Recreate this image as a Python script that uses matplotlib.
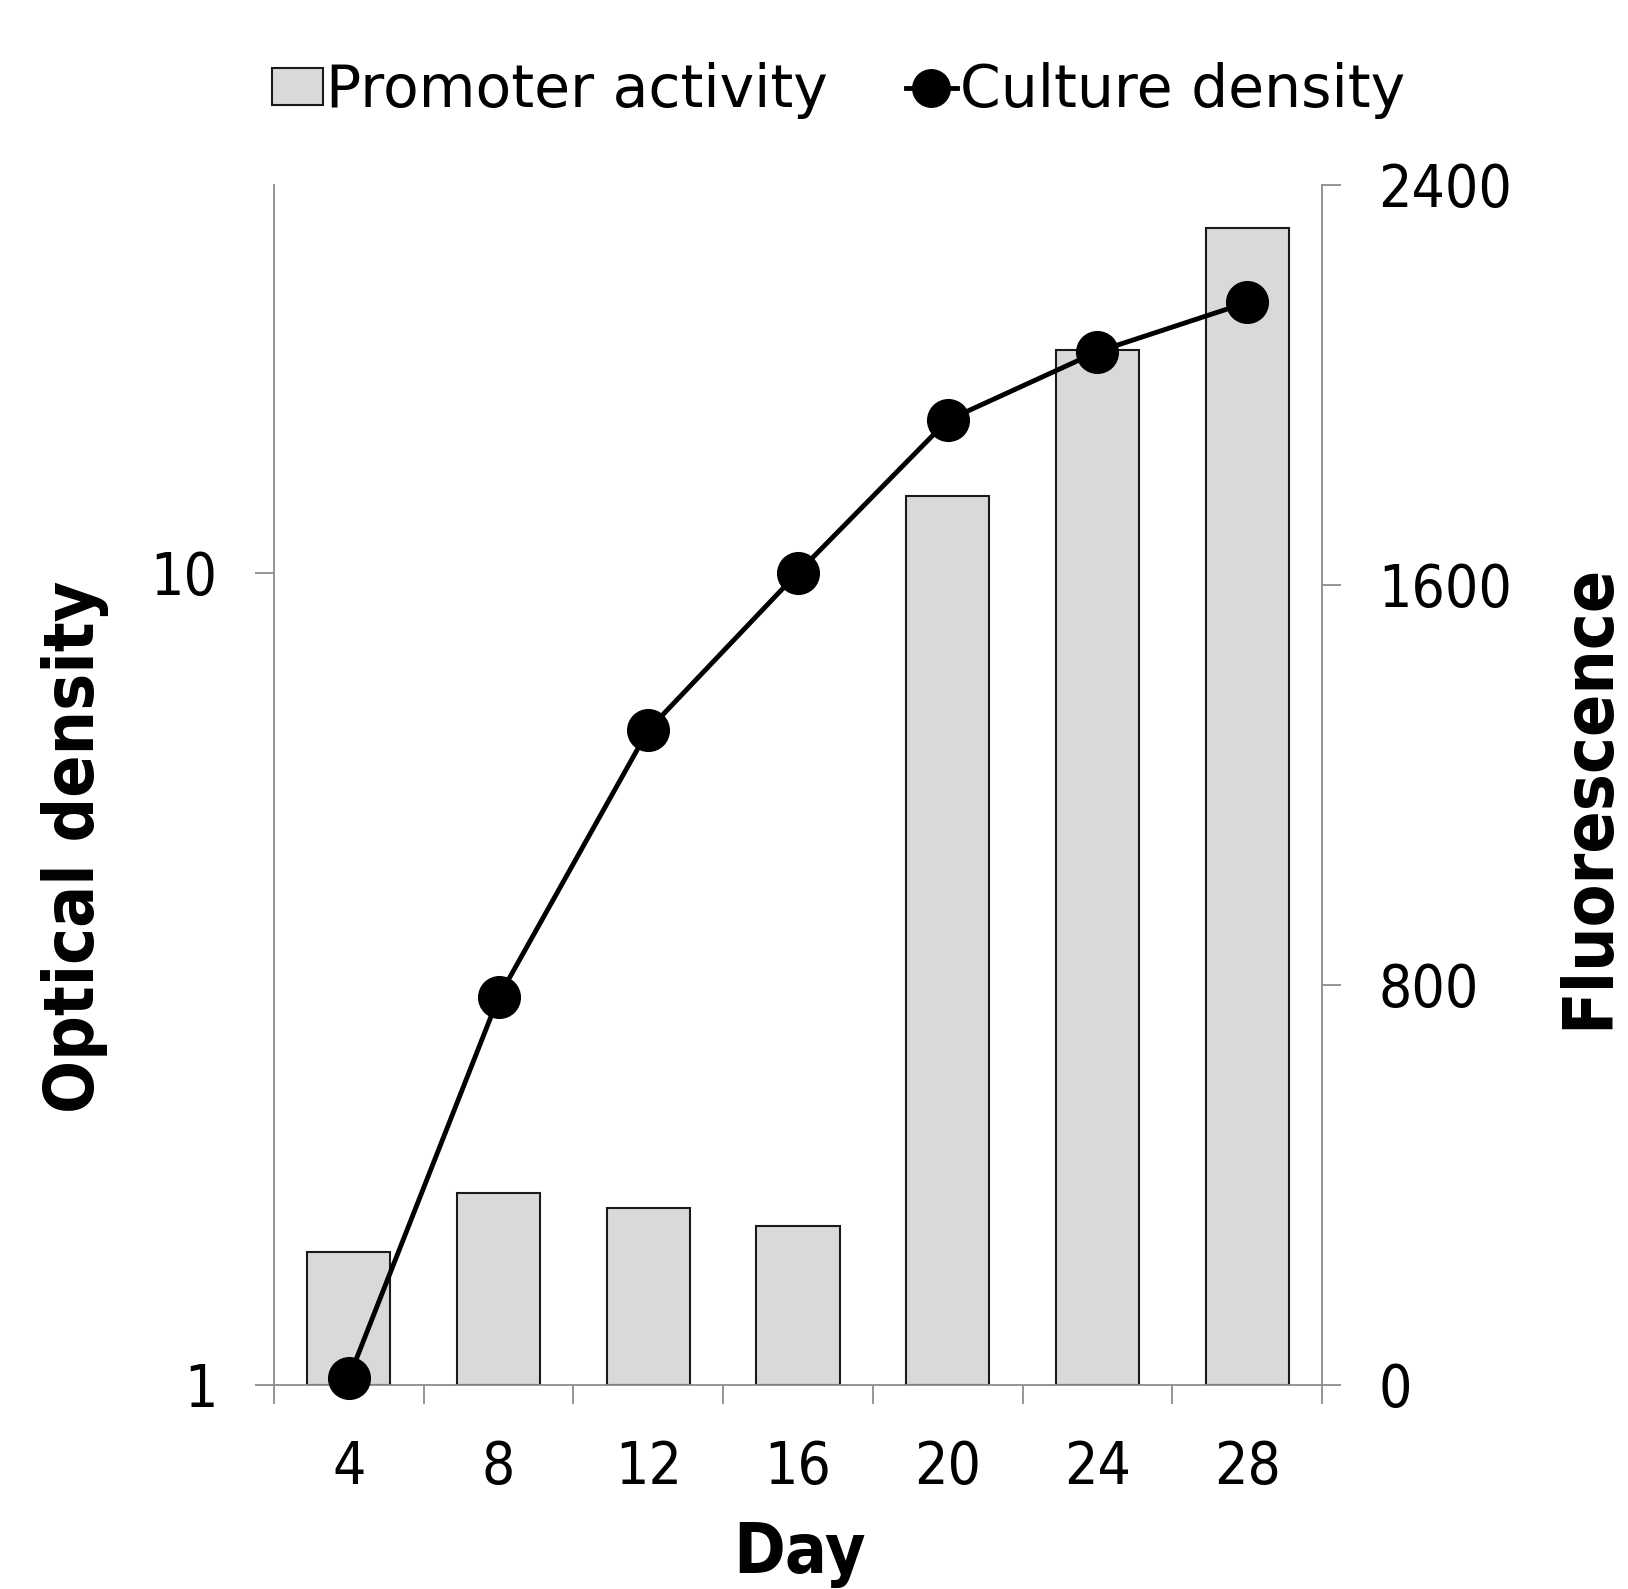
import matplotlib
matplotlib.use("Agg")
import matplotlib.pyplot as plt
from matplotlib.ticker import FixedLocator, NullLocator, FixedFormatter
from matplotlib.lines import Line2D
from matplotlib.patches import Patch
from matplotlib.font_manager import FontProperties
import numpy as np

plt.rcParams['font.family'] = ['DejaVu Sans']
plt.rcParams['font.stretch'] = 'condensed'

days = ["4", "8", "12", "16", "20", "24", "28"]
fluorescence = [265, 384, 353, 318, 1777, 2070, 2313]
optical_density = [1.02, 3.0, 6.4, 10.0, 15.4, 18.7, 21.5]

fluor_ticks = [0, 800, 1600, 2400]
od_ticks = [1, 10]

axis_grey = "#8c8c8c"
bar_fill = "#d9d9d9"

fig = plt.figure(figsize=(16.28, 15.89), dpi=100)
ax = fig.add_axes([0.1683, 0.1284, 0.812 - 0.1683, 0.8836 - 0.1284])
ax2 = ax.twinx()

x = np.arange(len(days))

# Bars: promoter activity on the right (linear) axis
ax2.bar(x, fluorescence, width=0.555, color=bar_fill, edgecolor="#1a1a1a",
        linewidth=1.5, zorder=2)
ax2.set_ylim(0, 2400)
ax2.yaxis.set_major_locator(FixedLocator(fluor_ticks))

# Line: culture density on the left (log) axis, drawn above the bars
ax.plot(x, optical_density, color="black", linewidth=3.5, marker="o",
        markersize=30, markerfacecolor="black", markeredgecolor="black",
        clip_on=False, zorder=5)
ax.set_yscale("log")
ax.set_ylim(1, 30)
ax.yaxis.set_major_locator(FixedLocator(od_ticks))
ax.yaxis.set_major_formatter(FixedFormatter([str(t) for t in od_ticks]))
ax.yaxis.set_minor_locator(NullLocator())
ax.set_zorder(ax2.get_zorder() + 1)
ax.patch.set_visible(False)

ax.set_xlim(-0.5, len(days) - 0.5)
ax.set_xticks(x)
ax.set_xticklabels(days)
ax.set_xticks(np.arange(-0.5, len(days)), minor=True)
ax.tick_params(axis="x", which="major", length=0, pad=39, labelsize=42)
ax.tick_params(axis="x", which="minor", length=13.5, width=1.3,
               color=axis_grey, direction="out")
ax.tick_params(axis="y", which="major", length=13.5, width=1.3,
               color=axis_grey, direction="out", pad=27, labelsize=42)
ax2.tick_params(axis="y", which="major", length=13.5, width=1.3,
                color=axis_grey, direction="out", pad=27, labelsize=42)

for a in (ax, ax2):
    a.spines["top"].set_visible(False)
    for s in ("left", "right", "bottom"):
        a.spines[s].set_color(axis_grey)
        a.spines[s].set_linewidth(1.3)
ax.spines["right"].set_visible(False)
ax2.spines["left"].set_visible(False)
ax2.spines["bottom"].set_visible(False)

# Axis titles
fig.text(0.491, 0.022, "Day", ha="center", va="center",
         fontsize=50, fontweight="bold")
fig.text(0.046, 0.467, "Optical density", ha="center", va="center",
         rotation=90, fontsize=50, fontweight="bold")
fig.text(0.9758, 0.499, "Fluorescence", ha="center", va="center",
         rotation=90, fontsize=50, fontweight="bold")

# Legend above the plot
handles = [
    Patch(facecolor=bar_fill, edgecolor="#1a1a1a", linewidth=1.5),
    Line2D([], [], color="black", linewidth=3.5, marker="o", markersize=27),
]
legend_font = FontProperties(family="DejaVu Sans", stretch="normal", size=42)
fig.legend(handles, ["Promoter activity", "Culture density"],
           loc="center", bbox_to_anchor=(0.515, 0.943), ncol=2,
           frameon=False, prop=legend_font, handlelength=0.87,
           handleheight=0.6, handletextpad=0.05, columnspacing=1.35,
           borderpad=0)

fig.savefig("out.png", dpi=100, facecolor="white")
